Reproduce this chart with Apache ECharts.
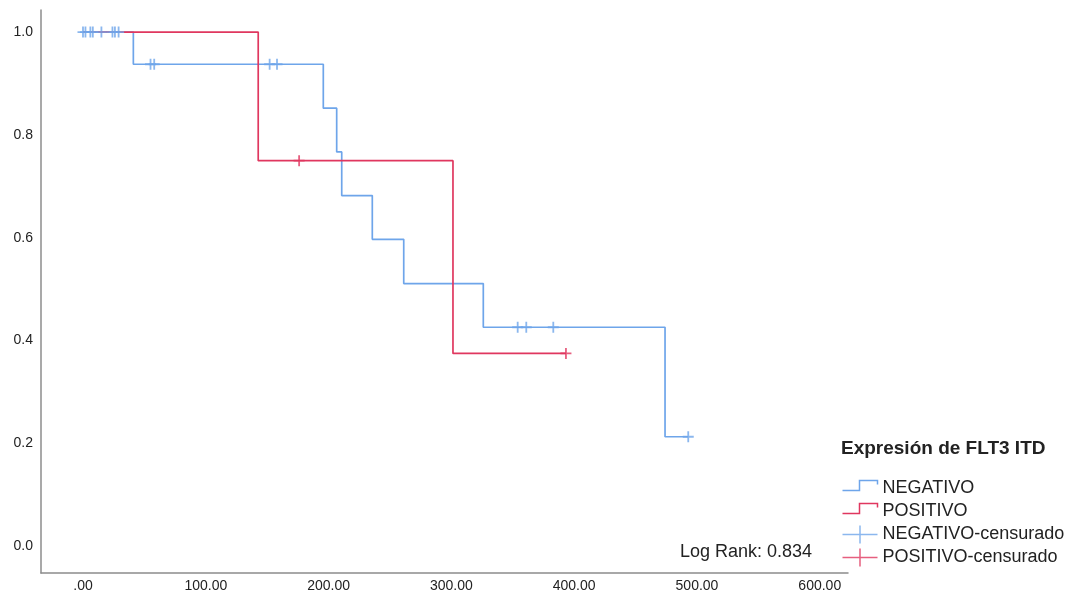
<!DOCTYPE html>
<html>
<head>
<meta charset="utf-8">
<script src="https://cdn.jsdelivr.net/npm/echarts@6/dist/echarts.min.js"></script>
<style>
  html, body { margin: 0; padding: 0; background: #ffffff; }
  #chart { width: 1070px; height: 596px; }
</style>
</head>
<body>
<div id="chart"></div>
<script>
// Kaplan–Meier curves: time of each step and the survival after it
const negTimes = [0, 41.0, 195.7, 206.6, 210.7, 235.6, 261.2, 326.0, 474.0, 492.9];
const negSurv  = [1.0, 0.9375, 0.852, 0.767, 0.682, 0.597, 0.511, 0.426, 0.213, 0.213];
const posTimes = [0, 142.7, 301.3, 393.3];
const posSurv  = [1.0, 0.75, 0.375, 0.375];

// censored observations (time)
const negCensored = [0, 2, 6, 8, 15, 24, 26, 29, 55, 58, 152, 158, 354, 361, 383, 492.9];
const posCensored = [176, 393.3];

// axis ticks
const xTicks = [0, 100, 200, 300, 400, 500, 600];
const yTicks = [0, 0.2, 0.4, 0.6, 0.8, 1.0];

const seriesNames = ['NEGATIVO', 'POSITIVO', 'NEGATIVO-censurado', 'POSITIVO-censurado'];
const legendTitle = 'Expresión de FLT3 ITD';
const logRankText = 'Log Rank: 0.834';

const BLUE = '#6ea5ea';
const RED = '#e0375f';
const FONT = '"Liberation Sans", Arial, sans-serif';

// survival value of a step curve at time t
function survivalAt(times, surv, t) {
  let s = surv[0];
  for (let i = 0; i < times.length; i++) {
    if (times[i] <= t) s = surv[i];
  }
  return s;
}

const negCurve = negTimes.map((t, i) => [t, negSurv[i]]);
const posCurve = posTimes.map((t, i) => [t, posSurv[i]]);
const negMarks = negCensored.map(t => [t, survivalAt(negTimes, negSurv, t)]);
const posMarks = posCensored.map(t => [t, survivalAt(posTimes, posSurv, t)]);

const plusSymbol = 'path://M5,0 L5,10 M0,5 L10,5';
const stepIcon = 'path://M0,0 M0,11 L17,11 L17,1 L35,1 L35,5 M35,18';
const plusIcon = 'path://M0,9 L35,9 M17.5,0 L17.5,18';

const chart = echarts.init(document.getElementById('chart'), null, { renderer: 'canvas' });

chart.setOption({
  animation: false,
  backgroundColor: '#ffffff',
  title: {
    text: legendTitle,
    left: 841,
    top: 439,
    padding: 0,
    textStyle: { fontFamily: FONT, fontSize: 19, fontWeight: 'bold', color: '#222222' }
  },
  legend: {
    orient: 'vertical',
    left: 840,
    top: 477,
    padding: 0,
    itemWidth: 35,
    itemHeight: 18,
    itemGap: 0,
    selectedMode: false,
    textStyle: { fontFamily: FONT, fontSize: 18, lineHeight: 23, color: '#222222' },
    data: [
      { name: seriesNames[0], icon: stepIcon, itemStyle: { color: 'none', borderColor: BLUE, borderWidth: 1.5 } },
      { name: seriesNames[1], icon: stepIcon, itemStyle: { color: 'none', borderColor: RED, borderWidth: 1.5 } },
      { name: seriesNames[2], icon: plusIcon, itemStyle: { color: 'none', borderColor: BLUE, borderWidth: 1.5 } },
      { name: seriesNames[3], icon: plusIcon, itemStyle: { color: 'none', borderColor: RED, borderWidth: 1.5 } }
    ]
  },
  graphic: [{
    type: 'text',
    left: 680,
    top: 543,
    style: { text: logRankText, font: '18px ' + FONT, fill: '#222222' }
  }],
  grid: { left: 41, right: 222, top: 10, bottom: 23, containLabel: false },
  xAxis: {
    type: 'value',
    min: -34.2,
    max: 623,
    axisLine: { show: true, onZero: false, lineStyle: { color: '#8c8c8c', width: 1.5 } },
    axisTick: { show: false },
    splitLine: { show: false },
    axisLabel: {
      customValues: xTicks,
      margin: 6,
      fontFamily: FONT,
      fontSize: 14,
      color: '#222222',
      formatter: v => (v === 0 ? '.00' : v.toFixed(2))
    }
  },
  yAxis: {
    type: 'value',
    min: -0.052,
    max: 1.043,
    axisLine: { show: true, onZero: false, lineStyle: { color: '#8c8c8c', width: 1.5 } },
    axisTick: { show: false },
    splitLine: { show: false },
    axisLabel: {
      customValues: yTicks,
      margin: 8,
      fontFamily: FONT,
      fontSize: 14,
      color: '#222222',
      formatter: v => v.toFixed(1)
    }
  },
  series: [
    {
      name: seriesNames[0],
      type: 'line',
      step: 'end',
      data: negCurve,
      showSymbol: false,
      symbol: 'none',
      lineStyle: { color: BLUE, width: 1.7 },
      itemStyle: { color: BLUE },
      z: 2
    },
    {
      name: seriesNames[1],
      type: 'line',
      step: 'end',
      data: posCurve,
      showSymbol: false,
      symbol: 'none',
      lineStyle: { color: RED, width: 1.7 },
      itemStyle: { color: RED },
      z: 2
    },
    {
      name: seriesNames[2],
      type: 'scatter',
      data: negMarks,
      symbol: plusSymbol,
      symbolSize: 11,
      itemStyle: { color: 'none', borderColor: BLUE, borderWidth: 1.8 },
      z: 3
    },
    {
      name: seriesNames[3],
      type: 'scatter',
      data: posMarks,
      symbol: plusSymbol,
      symbolSize: 11,
      itemStyle: { color: 'none', borderColor: RED, borderWidth: 1.8 },
      z: 3
    }
  ]
});
</script>
</body>
</html>
